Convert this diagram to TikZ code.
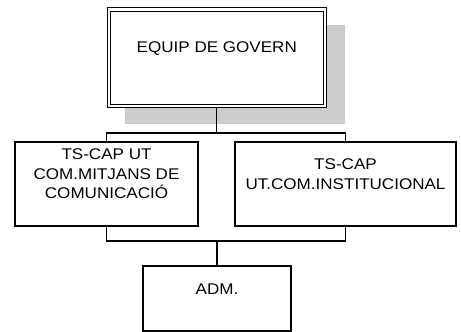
\documentclass[tikz,border=0pt]{standalone}
\usepackage{fontspec}
\setmainfont{Liberation Sans}[FakeStretch=1.1]
\definecolor{shadowgray}{RGB}{204,204,204}
\begin{document}
\begin{tikzpicture}[x=1pt,y=-1pt,
  box/.style={draw=black,line width=1.2pt,fill=white,inner sep=0pt,rectangle},
  lbl/.style={inner sep=0pt,align=center,font=\fontsize{15.5}{19.5}\selectfont},
  conn/.style={draw=black,line width=1.2pt}]
\useasboundingbox (0,0) rectangle (461,332);
% shadow
\fill[shadowgray] (125,25) rectangle (345,124);
% top box (double frame)
\node[box,double,double distance=2.3pt,line width=1.1pt,minimum width=216pt,minimum height=96.5pt] (gov) at (216.8,57.8) {};
\node[lbl] (govt) at (216.8,49) {EQUIP DE GOVERN};
% second level
\node[box,minimum width=183pt,minimum height=84pt] (left) at (106.5,184) {};
\node[lbl] (leftt) at (106.5,174) {TS-CAP UT\\COM.MITJANS DE\\COMUNICACIÓ};
\node[box,minimum width=221pt,minimum height=84pt] (right) at (345.5,184) {};
\node[lbl] (rightt) at (345.5,174) {TS-CAP\\UT.COM.INSTITUCIONAL};
% bottom
\node[box,minimum width=148pt,minimum height=65pt] (adm) at (217,298.5) {};
\node[lbl] (admt) at (217,289) {ADM.};
% connectors
\coordinate (j1) at (216.8,133);
\coordinate (j2) at (217,241);
\draw[conn] (gov.south) -- (j1);
\draw[conn] (left.north) |- (j1);
\draw[conn] (right.north) |- (j1);
\draw[conn] (left.south) |- (j2);
\draw[conn] (right.south) |- (j2);
\draw[conn] (j2) -- (adm.north);
\end{tikzpicture}
\end{document}
